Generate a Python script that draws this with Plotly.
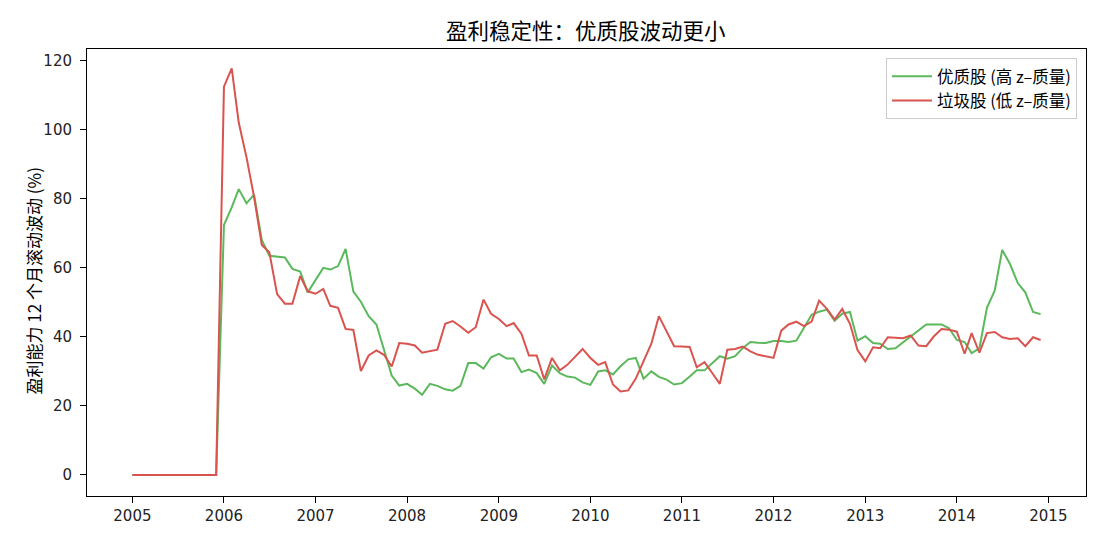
import pandas as pd
import plotly.graph_objects as go

dates = pd.date_range("2005-01-01", periods=120, freq="MS")

quality_vol = [0]*12 + [
    72.4, 77.5, 82.8, 78.7, 81.2, 68.0, 63.5, 63.3, 63.0, 59.7, 58.9, 52.9,
    56.3, 60.0, 59.5, 60.5, 65.5, 53.1, 50.2, 46.0, 43.6, 36.0, 28.8, 25.9,
    26.4, 25.0, 23.2, 26.4, 25.8, 24.8, 24.4, 25.8, 32.4, 32.4, 30.8, 34.1,
    35.1, 33.7, 33.7, 29.8, 30.5, 29.5, 26.4, 31.7, 29.5, 28.5, 28.2, 26.8,
    26.1, 30.0, 30.3, 29.1, 31.5, 33.5, 33.9, 27.9, 30.0, 28.4, 27.6, 26.2,
    26.6, 28.5, 30.3, 30.3, 32.2, 34.4, 33.7, 34.4, 36.8, 38.5, 38.3, 38.2,
    38.8, 38.8, 38.5, 38.9, 42.6, 46.4, 47.3, 47.9, 44.7, 46.7, 47.2, 38.9,
    40.2, 38.2, 38.0, 36.5, 36.7, 38.5, 40.2, 41.8, 43.6, 43.6, 43.6, 42.5,
    39.1, 38.5, 35.3, 36.7, 48.4, 53.4, 65.2, 61.1, 55.6, 52.9, 47.2, 46.6,
]

junk_vol = [0]*12 + [
    112.5, 117.8, 102.1, 92.0, 80.6, 66.6, 64.5, 52.4, 49.6, 49.6, 57.6, 53.2,
    52.5, 53.9, 49.0, 48.4, 42.3, 42.0, 30.1, 34.6, 36.1, 34.8, 31.4, 38.2,
    38.0, 37.5, 35.4, 35.8, 36.3, 43.8, 44.6, 43.0, 41.2, 42.8, 50.8, 46.7,
    45.2, 43.1, 44.0, 40.9, 34.6, 34.6, 27.7, 33.9, 30.3, 31.9, 34.3, 36.5,
    33.9, 31.9, 32.7, 26.2, 24.2, 24.5, 27.9, 32.7, 38.0, 46.0, 41.8, 37.3,
    37.2, 37.1, 31.2, 32.7, 29.6, 26.4, 36.3, 36.5, 37.2, 35.8, 34.8, 34.3,
    33.9, 41.8, 43.6, 44.4, 43.1, 44.4, 50.5, 48.1, 45.0, 48.1, 43.8, 36.2,
    32.9, 37.0, 36.7, 39.9, 39.7, 39.6, 40.4, 37.5, 37.3, 40.1, 42.3, 42.1,
    41.5, 35.1, 41.1, 35.4, 41.1, 41.4, 39.9, 39.4, 39.6, 37.3, 39.9, 39.1,
]

series_names = ["优质股 (高 z–质量)", "垃圾股 (低 z–质量)"]
title_text = "盈利稳定性：优质股波动更小"
ylabel_text = "盈利能力 12 个月滚动波动 (%)"
year_ticks = [f"{y}-01-01" for y in range(2005, 2016)]
year_labels = [str(y) for y in range(2005, 2016)]
ytick_vals = [0, 20, 40, 60, 80, 100, 120]

GREEN = "#5cb85c"
RED = "#d9534f"
CJK = "Noto Sans CJK SC"

fig = go.Figure()
fig.add_trace(go.Scatter(x=dates, y=quality_vol, mode="lines", name=series_names[0],
                         line=dict(color=GREEN, width=2)))
fig.add_trace(go.Scatter(x=dates, y=junk_vol, mode="lines", name=series_names[1],
                         line=dict(color=RED, width=2)))

axis_common = dict(showline=True, linecolor="black", linewidth=1, mirror=True,
                   ticks="outside", ticklen=6, tickwidth=1, tickcolor="black",
                   showgrid=False, zeroline=False,
                   tickfont=dict(family="DejaVu Sans", size=15, color="#222"))

fig.update_layout(
    width=1105, height=546,
    margin=dict(l=87, r=19, t=49, b=50),
    paper_bgcolor="white", plot_bgcolor="white",
    font=dict(family=CJK, color="black"),
    title=dict(text=title_text, x=0.53, xanchor="center", y=0.943, yanchor="middle",
               font=dict(family=CJK, size=21.5, color="black")),
    xaxis=dict(range=["2004-07-04", "2015-05-31"], tickvals=year_ticks,
               ticktext=year_labels, **axis_common),
    yaxis=dict(range=[-6.1, 123.4], tickvals=ytick_vals, ticklabelstandoff=5, **axis_common),
    legend=dict(x=0.991, y=0.98, xanchor="right", yanchor="top",
                bgcolor="rgba(255,255,255,0.9)", bordercolor="#cccccc", borderwidth=1,
                font=dict(family=CJK, size=16.5, color="black"),
                tracegroupgap=0, itemwidth=40),
    showlegend=True,
)
fig.add_annotation(text=ylabel_text, textangle=-90, xref="paper", yref="paper",
                   x=-0.054, y=0.48, xanchor="center", yanchor="middle", showarrow=False,
                   font=dict(family=CJK, size=17, color="black"))

fig.write_html("out.html")
